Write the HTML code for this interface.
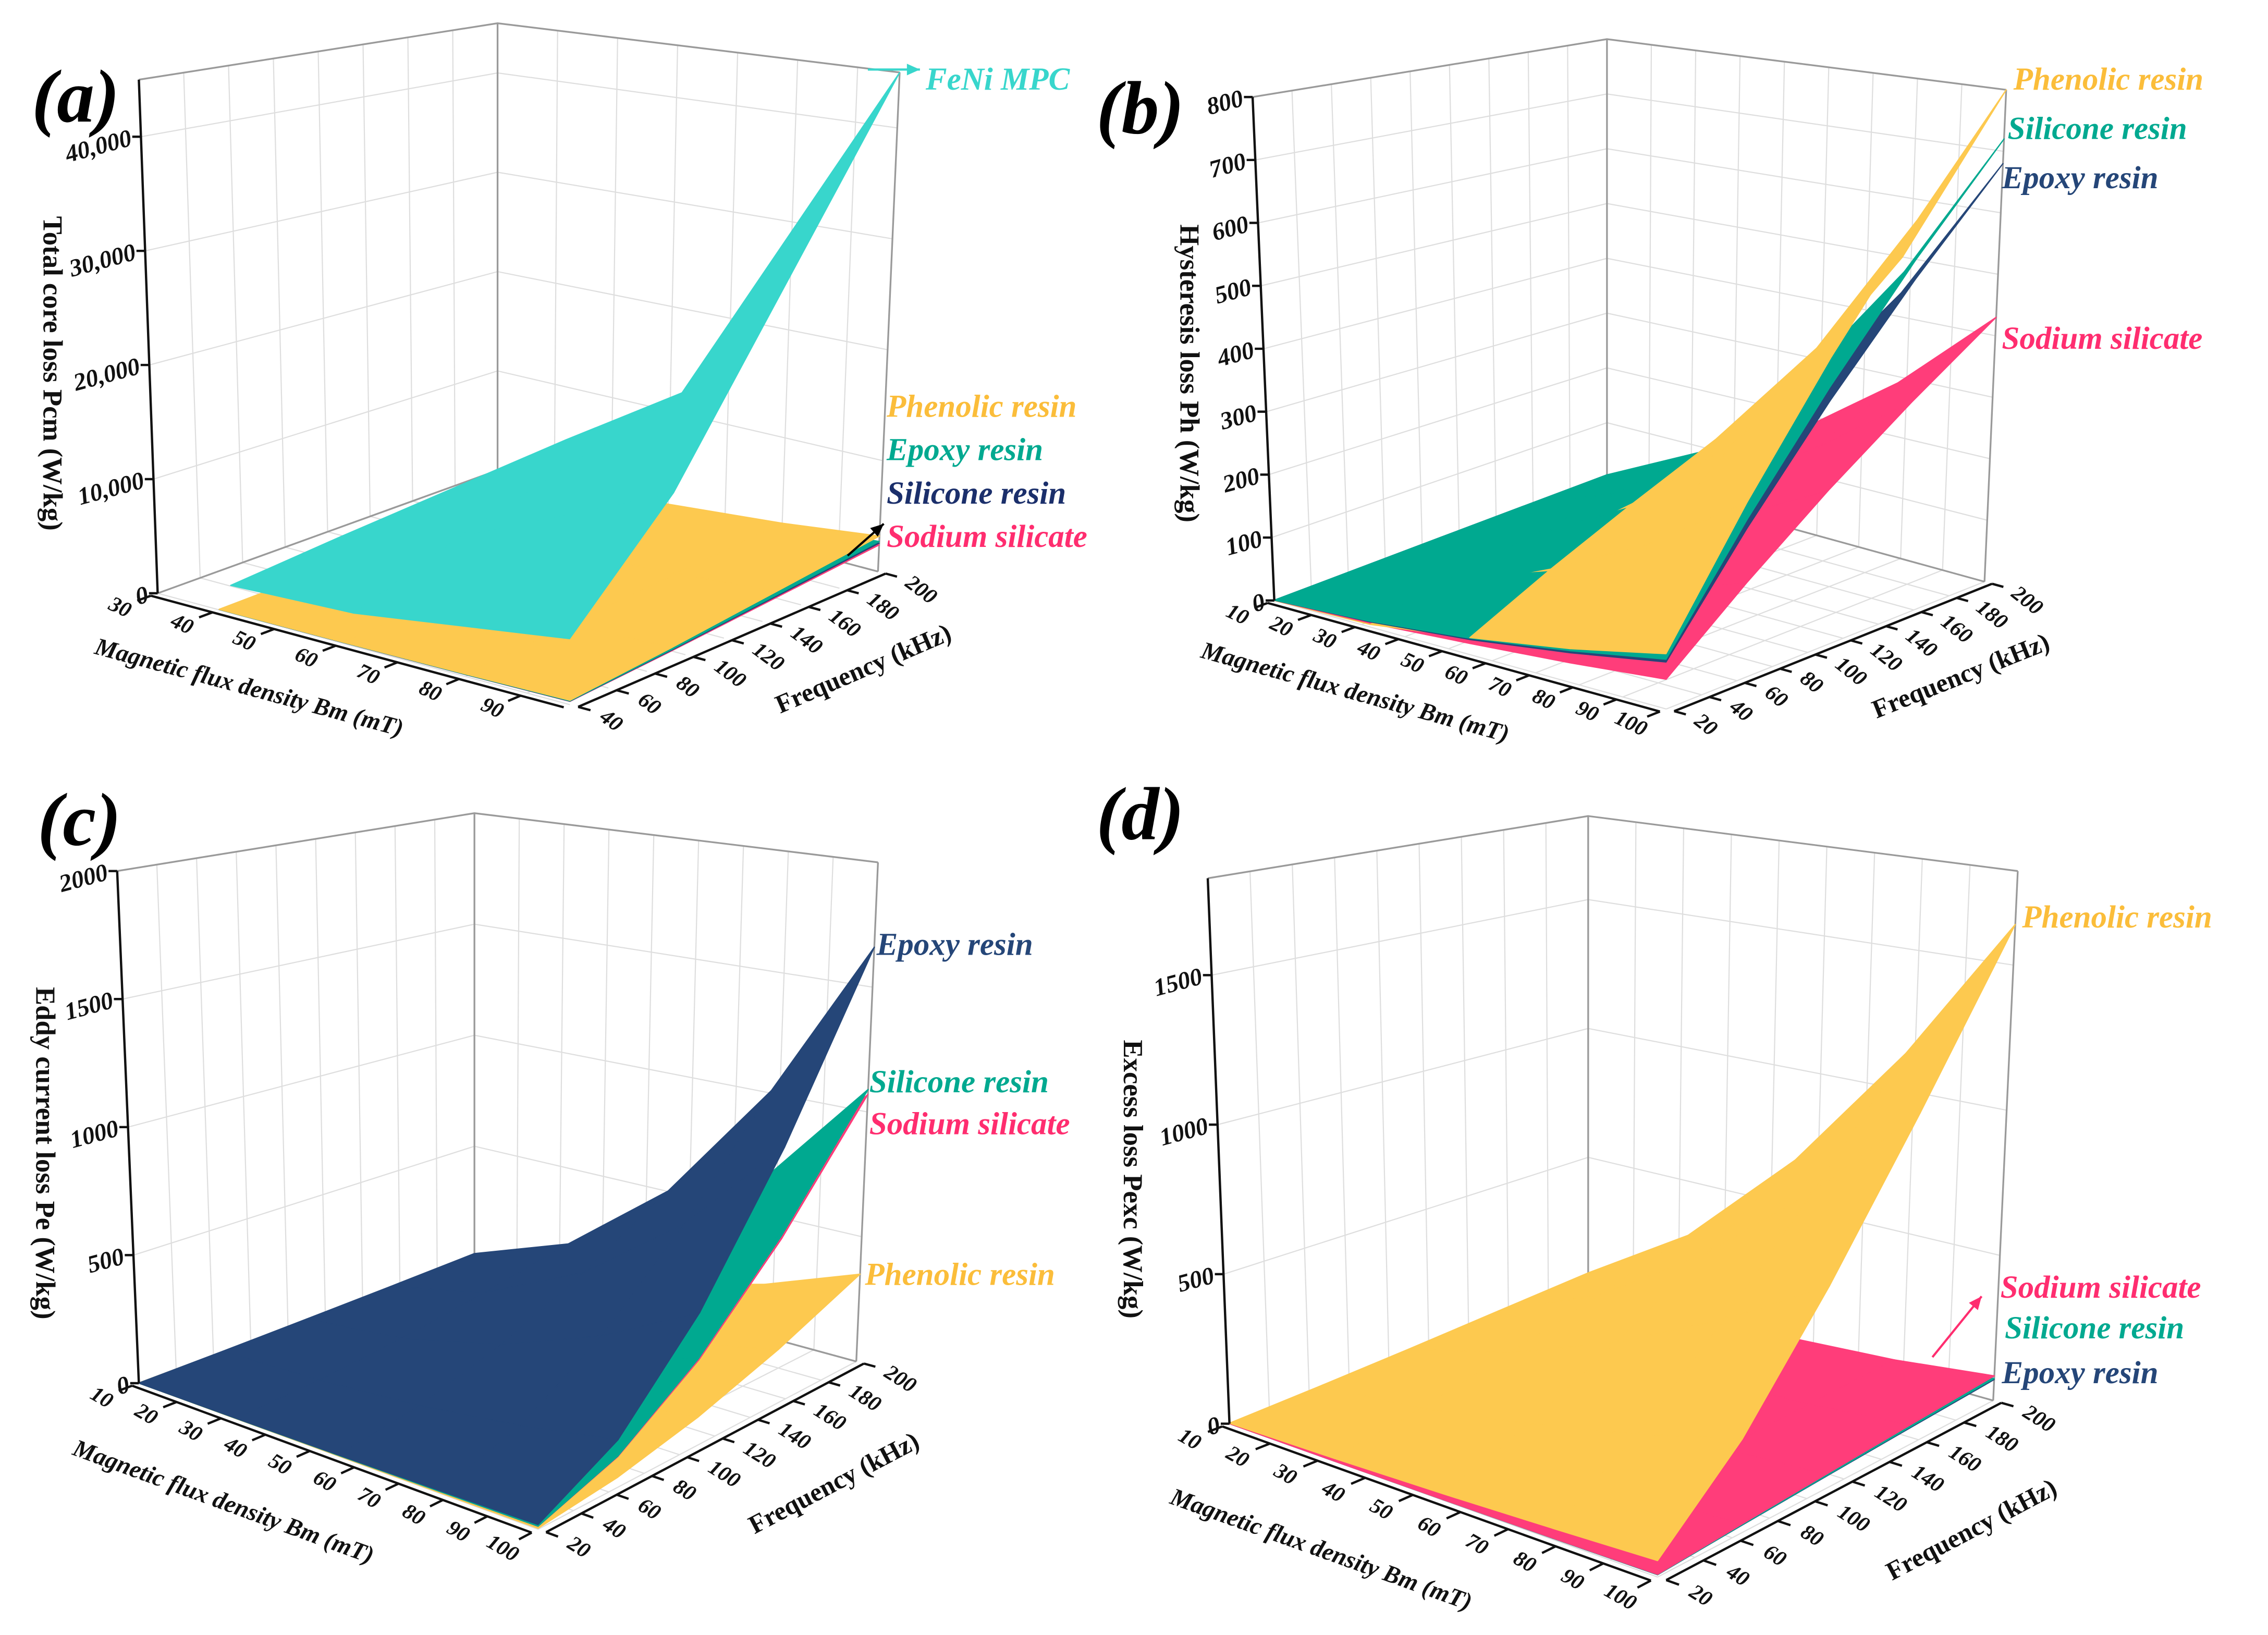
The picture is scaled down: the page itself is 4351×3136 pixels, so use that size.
<!DOCTYPE html>
<html><head><meta charset="utf-8"><style>
html,body{margin:0;padding:0;background:#fff;}
svg{display:block;}
text{font-family:"Liberation Serif",serif;}
</style></head>
<body>
<svg id="fig" xmlns="http://www.w3.org/2000/svg" width="4351" height="3136" viewBox="0 0 1568 1130">
<rect x="0" y="0" width="1568" height="1130" fill="#fff"/>
</svg>
<script>
// ---------- DATA ----------
// Panel (a) Total core loss Pcm
const bmA = [40, 60, 80, 97];
const fA = [40, 93, 147, 200];
const bmFeNi = [42, 62, 97];
const fFeNi = [40, 93, 200];
const feniA = [[2400, 2800, 5300],[3200, 6000, 14000],[4800, 12000, 45000]];
const phenolicA = [[50,100,200,350],[150,350,700,1100],[300,700,1400,2100],[500,1100,2100,3200]];
const epoxyA = [[40,85,170,300],[130,300,600,940],[255,600,1190,1790],[425,940,1790,2720]];
const siliconeA = [[40,80,160,280],[120,280,560,880],[240,560,1120,1680],[400,880,1680,2560]];
const sodiumA = [[38,75,150,260],[110,260,525,825],[225,525,1050,1575],[375,825,1575,2400]];
const zTicksA = [0, 10000, 20000, 30000, 40000];
const zLabelsA = ["0","10,000","20,000","30,000","40,000"];
const bTicksA = [30,40,50,60,70,80,90];
const fTicksA = [40,60,80,100,120,140,160,180,200];

// Shared grid for (b),(c),(d)
const bmG = [10, 32, 55, 78, 100];
const fG = [20, 65, 110, 155, 200];
const bTicksG = [10,20,30,40,50,60,70,80,90,100];
const fTicksG = [20,40,60,80,100,120,140,160,180,200];

// Panel (b) Hysteresis loss Ph
const phenolicB = [[0,4,26,50,80],[0,13,85,163,260],[0,22,143,275,440],[0,31,202,388,620],[0,40,260,500,800]];
const siliconeB = [[0.5,9,25,47,72],[1.6,29,81,153,234],[2.8,50,138,259,396],[3.9,70,194,364,558],[5,90,250,470,720]];
const epoxyB = [[0.5,8,23,44,68],[1.6,26,75,143,221],[2.8,44,127,242,374],[3.9,62,178,341,527],[5,80,230,440,680]];
const sodiumB = [[0.3,6,17,29,43],[1,20,55,94,140],[1.7,33,94,160,237],[2.3,47,132,225,333],[3,60,170,290,430]];
const zTicksB = [0,100,200,300,400,500,600,700,800];

// Panel (c) Eddy current loss Pe
const epoxyC = [[0.2,1.7,5,10,17],[1.8,18,53,107,175],[5,51,152,306,502],[10,102,302,607,997],[17,170,502,1010,1660]];
const siliconeC = [[0.1,1.1,3.3,6.6,11],[1.2,12,35,70,115],[3.3,34,100,201,330],[6.5,67,198,398,655],[11,112,330,663,1090]];
const sodiumC = [[0.1,1.1,3.2,6.5,10.7],[1.2,11.6,34,69,113],[3.2,33,98,197,323],[6.4,66,194,390,642],[10.8,110,323,650,1070]];
const phenolicC = [[0,0.4,1.1,2.1,3.5],[0.4,3.8,11,23,37],[1.1,11,32,65,106],[2.1,22,64,128,210],[3.5,36,106,213,350]];
const zTicksC = [0,500,1000,1500,2000];

// Panel (d) Excess loss Pexc
const phenolicD = [[1.7,9.5,21,36,52],[9.7,55,124,209,303],[21,122,273,461,669],[36,202,456,770,1118],[52,297,669,1130,1640]];
const sodiumD = [[0,0.5,2,4.5,8.5],[0,1.6,6.5,15,28],[0,2.8,11,25,47],[0,3.9,15.5,35,66],[0,5,20,45,85]];
const siliconeD = [[0,0.45,1.8,4,7.6],[0,1.4,5.8,13.5,25],[0,2.5,10,22,42],[0,3.5,14,31,59],[0,4.5,18,40,76]];
const epoxyD = [[0,0.4,1.7,3.8,7.2],[0,1.4,5.5,12.8,24],[0,2.4,9.4,21,40],[0,3.3,13,30,56],[0,4.2,17,38,72]];
const zTicksD = [0,500,1000,1500];

const C = {cyan:"#38d6cc", teal:"#00a990", navy:"#254678", yellow:"#fdc94f", pink:"#ff3d7a"};
// ---------- RENDER ----------
const NS = "http://www.w3.org/2000/svg";
const svg = document.getElementById("fig");
function add(parent, tag, attrs, name){
  const el = document.createElementNS(NS, tag);
  for (const k in attrs) el.setAttribute(k, attrs[k]);
  
  
  parent.appendChild(el);
  return el;
}
function bil(c,u,v){
  return [c[0][0]*(1-u)*(1-v)+c[1][0]*u*(1-v)+c[2][0]*u*v+c[3][0]*(1-u)*v,
          c[0][1]*(1-u)*(1-v)+c[1][1]*u*(1-v)+c[2][1]*u*v+c[3][1]*(1-u)*v];
}
function makeProj(P){
  return function(u,v,w){
    const a=bil(P.F,u,v), b=bil(P.T,u,v);
    return [a[0]*(1-w)+b[0]*w, a[1]*(1-w)+b[1]*w];
  };
}
function pts(arr){return arr.map(p=>p[0].toFixed(2)+","+p[1].toFixed(2)).join(" ");}

function drawPanel(P){
  const g = add(svg,"g",{},P.id);
  const pr = makeProj(P);
  const U = P.uOf, V = P.vOf, W = z=>Math.max(0,Math.min(1.05,z/P.zTop));
  const gg = add(g,"g",{stroke:"#dedede","stroke-width":0.8,fill:"none"},P.id+"-gridlines");
  P.fTicks.forEach(f=>{const a=pr(0,V(f),0),b=pr(0,V(f),1);add(gg,"line",{x1:a[0],y1:a[1],x2:b[0],y2:b[1]},"left-wall-gridline");
    const c=pr(1,V(f),0);add(gg,"line",{x1:a[0],y1:a[1],x2:c[0],y2:c[1]},"floor-gridline");});
  P.bTicks.forEach(B=>{const a=pr(U(B),1,0),b=pr(U(B),1,1);add(gg,"line",{x1:a[0],y1:a[1],x2:b[0],y2:b[1]},"back-wall-gridline");
    const c=pr(U(B),0,0);add(gg,"line",{x1:a[0],y1:a[1],x2:c[0],y2:c[1]},"floor-gridline");});
  P.zTicks.forEach(z=>{const a=pr(0,0,W(z)),b=pr(0,1,W(z)),c=pr(1,1,W(z));
    add(gg,"polyline",{points:pts([a,b,c])},"wall-gridline-z");});
  const be = add(g,"g",{stroke:"#9a9a9a","stroke-width":1.2,fill:"none"},P.id+"-box");
  add(be,"polyline",{points:pts([pr(0,0,1),pr(0,1,1),pr(1,1,1)])},"box-top-edge");
  add(be,"line",{x1:pr(0,1,0)[0],y1:pr(0,1,0)[1],x2:pr(0,1,1)[0],y2:pr(0,1,1)[1]},"box-back-edge");
  add(be,"line",{x1:pr(1,1,0)[0],y1:pr(1,1,0)[1],x2:pr(1,1,1)[0],y2:pr(1,1,1)[1]},"box-right-edge");
  add(be,"polyline",{points:pts([pr(0,0,0),pr(0,1,0),pr(1,1,0)])},"box-floor-edge");
  let quads=[];
  P.surfaces.forEach((s,si)=>{
    for(let j=0;j<s.f.length-1;j++)for(let i=0;i<s.B.length-1;i++){
      const c=[[i,j],[i+1,j],[i+1,j+1],[i,j+1]];
      const p=c.map(([a,b])=>pr(U(s.B[a]),V(s.f[b]),W(s.Z[b][a])));
      const uc=(U(s.B[i])+U(s.B[i+1]))/2, vc=(V(s.f[j])+V(s.f[j+1]))/2;
      const zc=(s.Z[j][i]+s.Z[j][i+1]+s.Z[j+1][i]+s.Z[j+1][i+1])/4;
      quads.push({p,color:s.color,name:s.name,key:P.layer?si*10:(vc-uc),z:zc,si});
    }
  });
  if(P.layer) quads.sort((a,b)=>a.si-b.si || (b.key-a.key));
  else quads.sort((a,b)=>(Math.abs(a.key-b.key)>1e-6?b.key-a.key:a.z-b.z));
  const sg = add(g,"g",{},P.id+"-surfaces");
  quads.forEach(q=>{
    add(sg,"polygon",{points:pts(q.p),fill:q.color,stroke:q.color,"stroke-width":0.8,"stroke-linejoin":"round"},q.name);
  });
  const ax = add(g,"g",{stroke:"#111","stroke-width":1.6,fill:"none"},P.id+"-axes");
  let a=pr(0,0,0),b=pr(0,0,1);
  add(ax,"line",{x1:a[0],y1:a[1],x2:b[0],y2:b[1]},"z-axis-line");
  a=pr(0,-0.02,0);b=pr(1,-0.02,0);
  add(ax,"line",{x1:a[0],y1:a[1],x2:b[0],y2:b[1]},"bm-axis-line");
  a=pr(1.02,0,0);b=pr(1.02,1,0);
  add(ax,"line",{x1:a[0],y1:a[1],x2:b[0],y2:b[1]},"freq-axis-line");
  const tx = add(g,"g",{fill:"#111","font-weight":"bold","font-style":"italic"},P.id+"-tick-labels");
  P.zTicks.forEach((z,k)=>{const p=pr(0,0,W(z));
    add(ax,"line",{x1:p[0],y1:p[1],x2:p[0]-6,y2:p[1]},"z-tick");
    const t=add(tx,"text",{x:p[0]-7,y:p[1]+6,"font-size":17,"text-anchor":"end",transform:`rotate(-15 ${p[0]-7} ${p[1]})`},"z-tick-label");
    t.textContent=P.zLabels?P.zLabels[k]:String(z);});
  const bd=[pr(1,0,0)[0]-pr(0,0,0)[0],pr(1,0,0)[1]-pr(0,0,0)[1]];
  const bAng=Math.atan2(bd[1],bd[0])*180/Math.PI;
  P.bTicks.forEach(B=>{const p=pr(U(B),-0.02,0),q=pr(U(B),-0.06,0);
    add(ax,"line",{x1:p[0],y1:p[1],x2:q[0],y2:q[1]},"bm-tick");
    const l=pr(U(B),-0.11,0);
    const t=add(tx,"text",{x:l[0],y:l[1]+5,"font-size":15,"text-anchor":"middle",transform:`rotate(${bAng+10} ${l[0]} ${l[1]})`},"bm-tick-label");
    t.textContent=String(B);});
  const fd=[pr(1,1,0)[0]-pr(1,0,0)[0],pr(1,1,0)[1]-pr(1,0,0)[1]];
  const fAng=Math.atan2(fd[1],fd[0])*180/Math.PI;
  P.fTicks.forEach(f=>{const p=pr(1.02,V(f),0),q=pr(1.05,V(f),0);
    add(ax,"line",{x1:p[0],y1:p[1],x2:q[0],y2:q[1]},"freq-tick");
    const l=pr(1.08,V(f),0);
    const t=add(tx,"text",{x:l[0],y:l[1]+5,"font-size":15,"text-anchor":"start",transform:`rotate(${fAng+60} ${l[0]} ${l[1]})`},"freq-tick-label");
    t.textContent=String(f);});
  let l=pr(0.5,-0.36,0);
  let t=add(g,"text",{x:l[0],y:l[1],"font-size":17,"font-weight":"bold","font-style":"italic","text-anchor":"middle",fill:"#111",transform:`rotate(${bAng} ${l[0]} ${l[1]})`},"bm-axis-title");
  t.textContent="Magnetic flux density Bm (mT)";
  l=pr(1.36,0.5,0);
  t=add(g,"text",{x:l[0],y:l[1],"font-size":18,"font-weight":"bold","text-anchor":"middle",fill:"#111",transform:`rotate(${fAng} ${l[0]} ${l[1]})`},"freq-axis-title");
  t.textContent="Frequency (kHz)";
  t=add(g,"text",{x:P.zt[0],y:P.zt[1],"font-size":19,"font-weight":"bold","text-anchor":"middle",fill:"#111",transform:`rotate(90 ${P.zt[0]} ${P.zt[1]})`},"z-axis-title");
  t.textContent=P.ztitle;
  t=add(g,"text",{x:P.lab[0],y:P.lab[1],"font-size":52,"font-weight":"bold","font-style":"italic",fill:"#000"},"panel-label");
  t.textContent=P.label;
  const lg = add(g,"g",{"font-size":22,"font-weight":"bold","font-style":"italic"},P.id+"-legend");
  P.legend.forEach(e=>{const tt=add(lg,"text",{x:e[1],y:e[2],fill:e[3]},"legend-entry");tt.textContent=e[0];});
  (P.arrows||[]).forEach(ar=>{
    add(g,"line",{x1:ar[0],y1:ar[1],x2:ar[2],y2:ar[3],stroke:ar[4],"stroke-width":1.5},"legend-arrow");
    const ang=Math.atan2(ar[3]-ar[1],ar[2]-ar[0]);
    const h=[[ar[2],ar[3]],[ar[2]-9*Math.cos(ang)+4*Math.sin(ang),ar[3]-9*Math.sin(ang)-4*Math.cos(ang)],[ar[2]-9*Math.cos(ang)-4*Math.sin(ang),ar[3]-9*Math.sin(ang)+4*Math.cos(ang)]];
    add(g,"polygon",{points:pts(h),fill:ar[4]},"legend-arrowhead");
  });
}

drawPanel({id:"panel-a",label:"(a)",lab:[22,84],
  F:[[109,410],[394,487],[607,395],[344,325]],T:[[96,55],[392,100],[622,50],[344,16]],
  zTop:45000,uOf:B=>(B-30)/67,vOf:f=>(f-40)/160,
  bTicks:bTicksA,fTicks:fTicksA,zTicks:zTicksA,zLabels:zLabelsA,layer:true,
  zt:[30,258],ztitle:"Total core loss Pcm (W/kg)",
  surfaces:[
    {name:"sodium-silicate-surface",color:C.pink,B:bmA,f:fA,Z:sodiumA},
    {name:"silicone-resin-surface",color:C.navy,B:bmA,f:fA,Z:siliconeA},
    {name:"epoxy-resin-surface",color:C.teal,B:bmA,f:fA,Z:epoxyA},
    {name:"phenolic-resin-surface",color:C.yellow,B:bmA,f:fA,Z:phenolicA},
    {name:"feni-mpc-surface",color:C.cyan,B:bmFeNi,f:fFeNi,Z:feniA}],
  legend:[["FeNi MPC",640,62,C.cyan],["Phenolic resin",613,288,"#fbbd3a"],["Epoxy resin",613,318,C.teal],["Silicone resin",613,348,"#1b2f6b"],["Sodium silicate",613,378,"#ff2d6f"]],
  arrows:[[600,48,636,48,C.cyan],[586,384,611,362,"#000"]]});

drawPanel({id:"panel-b",label:"(b)",lab:[758,92],
  F:[[881,415],[1152,490],[1372,402],[1111,330]],T:[[866,67],[1150,108],[1387,62],[1111,27]],
  zTop:800,uOf:B=>(B-10)/90,vOf:f=>(f-20)/180,
  bTicks:bTicksG,fTicks:fTicksG,zTicks:zTicksB,
  zt:[816,258],ztitle:"Hysteresis loss Ph (W/kg)",
  surfaces:[
    {name:"sodium-silicate-surface",color:C.pink,B:bmG,f:fG,Z:sodiumB},
    {name:"epoxy-resin-surface",color:C.navy,B:bmG,f:fG,Z:epoxyB},
    {name:"silicone-resin-surface",color:C.teal,B:bmG,f:fG,Z:siliconeB},
    {name:"phenolic-resin-surface",color:C.yellow,B:bmG,f:fG,Z:phenolicB}],
  legend:[["Phenolic resin",1392,62,"#fbbd3a"],["Silicone resin",1388,96,C.teal],["Epoxy resin",1384,130,C.navy],["Sodium silicate",1384,241,"#ff2d6f"]]});

drawPanel({id:"panel-c",label:"(c)",lab:[26,584],
  F:[[96,956],[372,1057],[592,941],[328,869]],T:[[81,602],[370,672],[607,596],[328,562]],
  zTop:2000,uOf:B=>(B-10)/90,vOf:f=>(f-20)/180,
  bTicks:bTicksG,fTicks:fTicksG,zTicks:zTicksC,
  zt:[25,797],ztitle:"Eddy current loss Pe (W/kg)",
  surfaces:[
    {name:"phenolic-resin-surface",color:C.yellow,B:bmG,f:fG,Z:phenolicC},
    {name:"sodium-silicate-surface",color:C.pink,B:bmG,f:fG,Z:sodiumC},
    {name:"silicone-resin-surface",color:C.teal,B:bmG,f:fG,Z:siliconeC},
    {name:"epoxy-resin-surface",color:C.navy,B:bmG,f:fG,Z:epoxyC}],
  legend:[["Epoxy resin",606,660,C.navy],["Silicone resin",601,755,C.teal],["Sodium silicate",601,784,"#ff2d6f"],["Phenolic resin",598,888,"#fbbd3a"]]});

drawPanel({id:"panel-d",label:"(d)",lab:[758,580],
  F:[[76,984],[372,1090],[604,968],[324,889]].map(p=>[p[0]+774,p[1]]),T:[[61,607],[370,692],[621,602],[324,564]].map(p=>[p[0]+774,p[1]]),
  zTop:1824,uOf:B=>(B-10)/90,vOf:f=>(f-20)/180,
  bTicks:bTicksG,fTicks:fTicksG,zTicks:zTicksD,
  zt:[777,815],ztitle:"Excess loss Pexc (W/kg)",
  surfaces:[
    {name:"epoxy-resin-surface",color:C.navy,B:bmG,f:fG,Z:epoxyD},
    {name:"silicone-resin-surface",color:C.teal,B:bmG,f:fG,Z:siliconeD},
    {name:"sodium-silicate-surface",color:C.pink,B:bmG,f:fG,Z:sodiumD},
    {name:"phenolic-resin-surface",color:C.yellow,B:bmG,f:fG,Z:phenolicD}],
  legend:[["Phenolic resin",1398,641,"#fbbd3a"],["Sodium silicate",1383,897,"#ff2d6f"],["Silicone resin",1386,925,C.teal],["Epoxy resin",1384,956,C.navy]],
  arrows:[[1336,938,1370,896,"#ff2d6f"]]});
</script>
</body></html>
